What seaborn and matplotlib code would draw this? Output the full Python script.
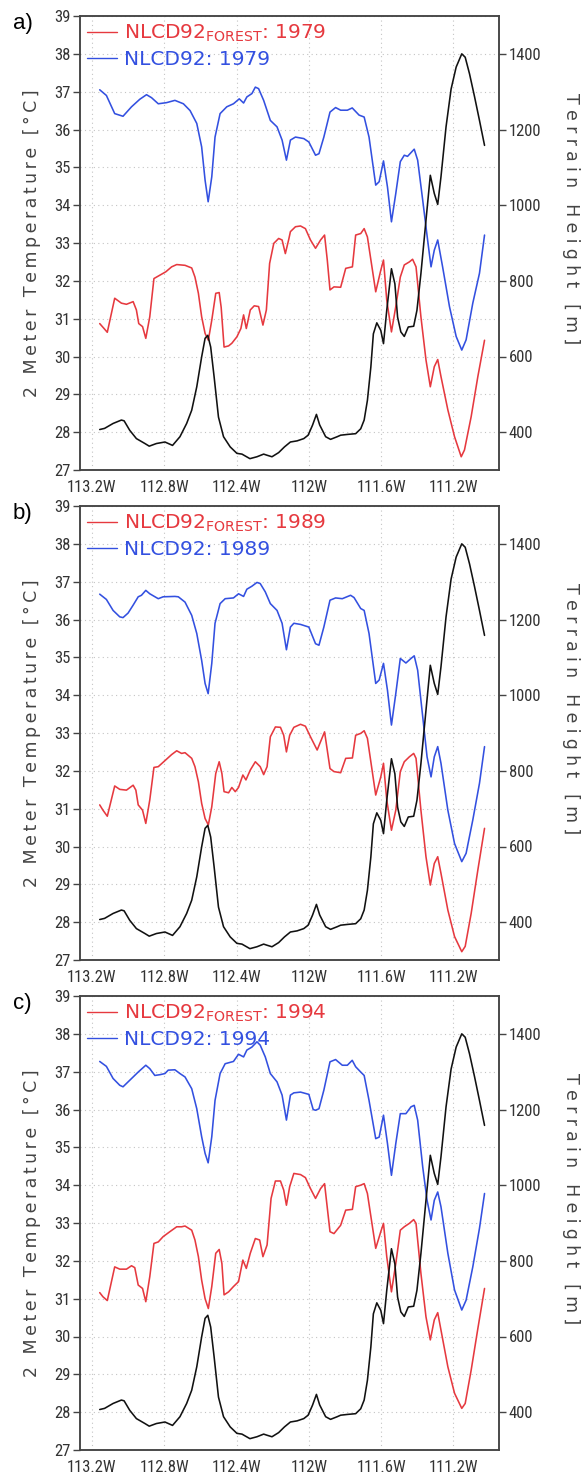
import matplotlib
matplotlib.use("Agg")
import matplotlib.pyplot as plt
from matplotlib import font_manager
import pandas as pd
import seaborn as sns

# ---------------------------------------------------------------
# Dados (longitude, valor)
# ---------------------------------------------------------------
YEARS = [1979, 1989, 1994]
PANEL_LETTERS = ["a)", "b)", "c)"]
LON_TICKS = [-113.2, -112.8, -112.4, -112.0, -111.6, -111.2]
LON_LABELS = ["113.2W", "112.8W", "112.4W", "112W", "111.6W", "111.2W"]
TEMP_TICKS = list(range(27, 40))
HEIGHT_TICKS = [400, 600, 800, 1000, 1200, 1400]

# altura do terreno (m), igual nos três painéis
TERRAIN = [
    (-113.157, 407), (-113.130, 410), (-113.083, 423), (-113.037, 432), (-113.022, 430),
    (-112.991, 405), (-112.954, 383), (-112.907, 370), (-112.883, 363), (-112.843, 370),
    (-112.796, 374), (-112.754, 365), (-112.713, 388), (-112.676, 423), (-112.648, 458),
    (-112.620, 520), (-112.593, 599), (-112.574, 648), (-112.559, 656), (-112.543, 625),
    (-112.524, 546), (-112.500, 440), (-112.472, 388), (-112.435, 361), (-112.398, 344),
    (-112.370, 342), (-112.326, 330), (-112.287, 335), (-112.250, 342), (-112.231, 339),
    (-112.204, 335), (-112.167, 346), (-112.135, 361), (-112.102, 374), (-112.065, 377),
    (-112.028, 383), (-112.004, 392), (-111.980, 418), (-111.958, 447), (-111.940, 419),
    (-111.907, 388), (-111.880, 381), (-111.843, 388), (-111.824, 392), (-111.787, 394),
    (-111.741, 396), (-111.713, 409), (-111.694, 432), (-111.676, 484), (-111.657, 572),
    (-111.643, 660), (-111.624, 689), (-111.602, 669), (-111.587, 634), (-111.569, 722),
    (-111.543, 832), (-111.524, 792), (-111.509, 704), (-111.491, 665), (-111.472, 653),
    (-111.450, 678), (-111.420, 680), (-111.402, 722), (-111.380, 819), (-111.352, 960),
    (-111.328, 1079), (-111.306, 1031), (-111.287, 1002), (-111.269, 1075), (-111.241, 1207),
    (-111.213, 1307), (-111.185, 1365), (-111.154, 1400), (-111.135, 1391), (-111.111, 1347),
    (-111.083, 1286), (-111.056, 1224), (-111.028, 1158),
]

# NLCD92 (azul), temperatura a 2 m
BLUE_1979 = [
    (-113.157, 37.05), (-113.120, 36.90), (-113.074, 36.42), (-113.028, 36.35), (-112.981, 36.60),
    (-112.935, 36.80), (-112.898, 36.92), (-112.870, 36.84), (-112.833, 36.68), (-112.787, 36.71),
    (-112.741, 36.77), (-112.694, 36.68), (-112.657, 36.50), (-112.620, 36.16), (-112.593, 35.54),
    (-112.574, 34.66), (-112.557, 34.09), (-112.537, 34.75), (-112.519, 35.80), (-112.491, 36.42),
    (-112.454, 36.60), (-112.417, 36.68), (-112.385, 36.81), (-112.361, 36.70), (-112.343, 36.86),
    (-112.315, 36.95), (-112.296, 37.12), (-112.278, 37.08), (-112.250, 36.77), (-112.213, 36.24),
    (-112.176, 36.07), (-112.148, 35.72), (-112.124, 35.19), (-112.102, 35.72), (-112.074, 35.80),
    (-112.028, 35.76), (-112.000, 35.67), (-111.963, 35.32), (-111.944, 35.36), (-111.917, 35.80),
    (-111.883, 36.46), (-111.852, 36.58), (-111.824, 36.51), (-111.787, 36.51), (-111.760, 36.57),
    (-111.722, 36.38), (-111.694, 36.33), (-111.667, 35.80), (-111.630, 34.53), (-111.611, 34.62),
    (-111.587, 35.17), (-111.565, 34.48), (-111.543, 33.56), (-111.519, 34.31), (-111.494, 35.15),
    (-111.472, 35.32), (-111.454, 35.29), (-111.417, 35.48), (-111.398, 35.19), (-111.370, 34.13),
    (-111.343, 33.08), (-111.324, 32.37), (-111.306, 32.81), (-111.287, 33.08), (-111.260, 32.37),
    (-111.222, 31.32), (-111.185, 30.53), (-111.154, 30.17), (-111.130, 30.44), (-111.093, 31.41),
    (-111.056, 32.20), (-111.028, 33.21),
]
BLUE_1989 = [
    (-113.157, 36.67), (-113.120, 36.53), (-113.083, 36.24), (-113.046, 36.07), (-113.028, 36.05),
    (-113.000, 36.17), (-112.972, 36.38), (-112.944, 36.60), (-112.926, 36.64), (-112.902, 36.77),
    (-112.880, 36.68), (-112.833, 36.55), (-112.806, 36.60), (-112.741, 36.61), (-112.722, 36.60),
    (-112.685, 36.46), (-112.648, 36.11), (-112.620, 35.63), (-112.593, 34.92), (-112.574, 34.31),
    (-112.557, 34.04), (-112.537, 34.84), (-112.519, 35.90), (-112.491, 36.42), (-112.463, 36.55),
    (-112.417, 36.57), (-112.389, 36.68), (-112.361, 36.61), (-112.343, 36.80), (-112.315, 36.88),
    (-112.287, 36.98), (-112.269, 36.95), (-112.241, 36.73), (-112.213, 36.42), (-112.176, 36.24),
    (-112.148, 35.90), (-112.124, 35.20), (-112.102, 35.80), (-112.083, 35.90), (-112.046, 35.87),
    (-112.000, 35.80), (-111.963, 35.36), (-111.944, 35.32), (-111.917, 35.80), (-111.883, 36.51),
    (-111.852, 36.57), (-111.815, 36.55), (-111.769, 36.64), (-111.750, 36.58), (-111.713, 36.29),
    (-111.694, 36.24), (-111.667, 35.63), (-111.630, 34.31), (-111.611, 34.40), (-111.587, 34.84),
    (-111.565, 34.13), (-111.543, 33.21), (-111.519, 34.04), (-111.494, 34.97), (-111.463, 34.85),
    (-111.435, 34.97), (-111.417, 35.04), (-111.398, 34.66), (-111.370, 33.43), (-111.346, 32.37),
    (-111.324, 31.84), (-111.306, 32.37), (-111.287, 32.64), (-111.269, 32.20), (-111.231, 30.96),
    (-111.194, 30.08), (-111.154, 29.60), (-111.130, 29.82), (-111.093, 30.70), (-111.056, 31.67),
    (-111.028, 32.64),
]
BLUE_1994 = [
    (-113.157, 37.27), (-113.120, 37.14), (-113.083, 36.82), (-113.046, 36.64), (-113.028, 36.60),
    (-113.000, 36.73), (-112.972, 36.86), (-112.944, 36.99), (-112.902, 37.17), (-112.880, 37.08),
    (-112.852, 36.90), (-112.824, 36.92), (-112.796, 36.95), (-112.778, 37.04), (-112.741, 37.05),
    (-112.713, 36.95), (-112.685, 36.86), (-112.648, 36.55), (-112.620, 36.02), (-112.593, 35.28),
    (-112.574, 34.84), (-112.557, 34.59), (-112.537, 35.28), (-112.519, 36.24), (-112.491, 36.95),
    (-112.463, 37.21), (-112.417, 37.27), (-112.389, 37.46), (-112.361, 37.39), (-112.343, 37.57),
    (-112.315, 37.65), (-112.287, 37.79), (-112.269, 37.70), (-112.241, 37.39), (-112.213, 36.95),
    (-112.176, 36.73), (-112.148, 36.38), (-112.124, 35.72), (-112.102, 36.38), (-112.083, 36.44),
    (-112.046, 36.46), (-112.000, 36.40), (-111.976, 36.00), (-111.963, 35.98), (-111.944, 36.02),
    (-111.917, 36.51), (-111.883, 37.26), (-111.852, 37.32), (-111.815, 37.17), (-111.787, 37.17),
    (-111.760, 37.30), (-111.741, 37.13), (-111.713, 36.99), (-111.694, 36.90), (-111.667, 36.24),
    (-111.630, 35.23), (-111.611, 35.27), (-111.587, 35.85), (-111.565, 35.10), (-111.543, 34.26),
    (-111.519, 35.10), (-111.494, 35.89), (-111.463, 35.89), (-111.435, 36.07), (-111.417, 36.11),
    (-111.398, 35.72), (-111.370, 34.48), (-111.346, 33.60), (-111.324, 33.08), (-111.306, 33.60),
    (-111.287, 33.82), (-111.269, 33.43), (-111.231, 32.20), (-111.194, 31.23), (-111.154, 30.70),
    (-111.130, 30.96), (-111.093, 31.84), (-111.056, 32.86), (-111.028, 33.78),
]

# NLCD92_FOREST (vermelho), temperatura a 2 m
RED_1979 = [
    (-113.157, 30.87), (-113.133, 30.74), (-113.115, 30.64), (-113.074, 31.54), (-113.037, 31.41),
    (-113.009, 31.38), (-112.972, 31.45), (-112.954, 31.23), (-112.941, 30.87), (-112.920, 30.79),
    (-112.902, 30.48), (-112.880, 31.05), (-112.857, 32.06), (-112.824, 32.15), (-112.791, 32.24),
    (-112.759, 32.37), (-112.731, 32.43), (-112.685, 32.41), (-112.648, 32.34), (-112.630, 32.10),
    (-112.611, 31.67), (-112.593, 31.05), (-112.574, 30.61), (-112.556, 30.43), (-112.537, 30.96),
    (-112.515, 31.67), (-112.496, 31.69), (-112.485, 31.30), (-112.469, 30.25), (-112.444, 30.28),
    (-112.426, 30.35), (-112.398, 30.52), (-112.376, 30.74), (-112.361, 31.10), (-112.346, 30.74),
    (-112.324, 31.23), (-112.302, 31.34), (-112.278, 31.32), (-112.254, 30.83), (-112.235, 31.23),
    (-112.217, 32.46), (-112.194, 32.99), (-112.167, 33.12), (-112.148, 33.08), (-112.130, 32.72),
    (-112.111, 33.10), (-112.102, 33.30), (-112.074, 33.43), (-112.046, 33.45), (-112.019, 33.38),
    (-111.991, 33.08), (-111.963, 32.86), (-111.935, 33.08), (-111.913, 33.21), (-111.898, 32.55),
    (-111.883, 31.76), (-111.861, 31.84), (-111.824, 31.83), (-111.796, 32.33), (-111.759, 32.37),
    (-111.741, 33.21), (-111.713, 33.25), (-111.694, 33.38), (-111.676, 33.16), (-111.630, 31.71),
    (-111.602, 32.28), (-111.587, 32.55), (-111.569, 31.49), (-111.543, 30.65), (-111.519, 31.32),
    (-111.494, 32.10), (-111.472, 32.42), (-111.444, 32.50), (-111.426, 32.57), (-111.407, 32.37),
    (-111.380, 31.05), (-111.352, 29.91), (-111.328, 29.20), (-111.306, 29.73), (-111.287, 29.92),
    (-111.269, 29.47), (-111.231, 28.59), (-111.194, 27.88), (-111.157, 27.35), (-111.139, 27.53),
    (-111.102, 28.41), (-111.065, 29.47), (-111.028, 30.43),
]
RED_1989 = [
    (-113.157, 31.10), (-113.139, 30.96), (-113.115, 30.80), (-113.074, 31.60), (-113.046, 31.51),
    (-113.009, 31.49), (-112.972, 31.62), (-112.957, 31.49), (-112.944, 31.10), (-112.920, 30.96),
    (-112.902, 30.61), (-112.880, 31.23), (-112.857, 32.09), (-112.833, 32.11), (-112.796, 32.27),
    (-112.759, 32.43), (-112.731, 32.53), (-112.704, 32.46), (-112.685, 32.48), (-112.648, 32.33),
    (-112.630, 32.11), (-112.611, 31.71), (-112.593, 31.14), (-112.574, 30.74), (-112.556, 30.57),
    (-112.537, 31.05), (-112.515, 31.93), (-112.496, 32.24), (-112.481, 31.93), (-112.469, 31.45),
    (-112.444, 31.42), (-112.426, 31.56), (-112.407, 31.45), (-112.389, 31.56), (-112.365, 31.89),
    (-112.348, 31.76), (-112.324, 32.02), (-112.296, 32.24), (-112.269, 32.11), (-112.250, 31.90),
    (-112.231, 32.11), (-112.213, 32.90), (-112.185, 33.16), (-112.157, 33.15), (-112.139, 32.94),
    (-112.124, 32.50), (-112.106, 32.94), (-112.083, 33.15), (-112.046, 33.23), (-112.019, 33.18),
    (-111.991, 32.90), (-111.954, 32.55), (-111.913, 33.03), (-111.883, 32.06), (-111.861, 31.98),
    (-111.824, 31.95), (-111.796, 32.33), (-111.759, 32.34), (-111.741, 32.94), (-111.713, 32.99),
    (-111.694, 33.06), (-111.676, 32.86), (-111.630, 31.36), (-111.602, 31.84), (-111.587, 32.20),
    (-111.569, 31.23), (-111.543, 30.43), (-111.519, 30.96), (-111.494, 31.98), (-111.472, 32.24),
    (-111.444, 32.37), (-111.420, 32.46), (-111.407, 32.33), (-111.380, 30.96), (-111.352, 29.73),
    (-111.328, 28.98), (-111.306, 29.55), (-111.287, 29.73), (-111.269, 29.29), (-111.231, 28.32),
    (-111.194, 27.62), (-111.154, 27.22), (-111.135, 27.36), (-111.102, 28.23), (-111.065, 29.38),
    (-111.028, 30.48),
]
RED_1994 = [
    (-113.157, 31.16), (-113.139, 31.05), (-113.115, 30.95), (-113.074, 31.84), (-113.046, 31.78),
    (-113.009, 31.78), (-112.981, 31.87), (-112.963, 31.82), (-112.944, 31.36), (-112.920, 31.27),
    (-112.902, 30.92), (-112.880, 31.58), (-112.857, 32.46), (-112.833, 32.50), (-112.806, 32.64),
    (-112.769, 32.77), (-112.731, 32.90), (-112.704, 32.90), (-112.685, 32.92), (-112.648, 32.81),
    (-112.630, 32.55), (-112.611, 32.11), (-112.593, 31.49), (-112.574, 31.00), (-112.556, 30.74),
    (-112.537, 31.32), (-112.515, 32.20), (-112.496, 32.30), (-112.481, 31.93), (-112.469, 31.10),
    (-112.444, 31.18), (-112.417, 31.32), (-112.389, 31.45), (-112.365, 32.02), (-112.346, 31.80),
    (-112.324, 32.20), (-112.296, 32.59), (-112.272, 32.55), (-112.254, 32.11), (-112.231, 32.42),
    (-112.209, 33.65), (-112.185, 34.11), (-112.157, 34.11), (-112.139, 33.87), (-112.124, 33.47),
    (-112.106, 33.96), (-112.083, 34.31), (-112.046, 34.28), (-112.019, 34.20), (-111.991, 33.91),
    (-111.963, 33.65), (-111.935, 33.91), (-111.913, 34.04), (-111.883, 32.77), (-111.861, 32.72),
    (-111.824, 32.94), (-111.796, 33.34), (-111.759, 33.36), (-111.741, 33.96), (-111.713, 34.00),
    (-111.694, 34.04), (-111.676, 33.78), (-111.630, 32.33), (-111.602, 32.77), (-111.587, 32.99),
    (-111.569, 32.11), (-111.543, 31.18), (-111.519, 31.93), (-111.494, 32.81), (-111.472, 32.90),
    (-111.444, 32.99), (-111.420, 33.09), (-111.407, 32.99), (-111.380, 31.67), (-111.352, 30.52),
    (-111.328, 29.91), (-111.306, 30.44), (-111.287, 30.63), (-111.269, 30.17), (-111.231, 29.20),
    (-111.194, 28.50), (-111.154, 28.10), (-111.135, 28.23), (-111.102, 29.11), (-111.065, 30.21),
    (-111.028, 31.27),
]

RED_SERIES = [RED_1979, RED_1989, RED_1994]
BLUE_SERIES = [BLUE_1979, BLUE_1989, BLUE_1994]

RED = "#e6393f"
BLUE = "#3350e0"
BLACK = "#111111"
AXIS_GRAY = "#444444"
WIDE = ["DejaVu Sans"]


def fonte_estreita(size):
    # procura uma fonte condensada instalada para os rótulos dos eixos
    prefer = ["Liberation Sans Narrow", "Roboto Condensed", "Open Sans Condensed"]
    entries = font_manager.fontManager.ttflist
    for name in prefer:
        for f in entries:
            if f.name == name and f.weight in (400, "normal", "regular") and f.style == "normal":
                return font_manager.FontProperties(fname=f.fname, size=size)
    for f in entries:
        if f.name == "DejaVu Sans" and str(f.stretch) in ("condensed", "semi-condensed") \
                and f.style == "normal" and f.weight in (400, "normal"):
            return font_manager.FontProperties(fname=f.fname, size=size)
    return font_manager.FontProperties(family="DejaVu Sans", size=size - 1.5)


def espacado(s, sep="\u2009"):
    return sep.join(s)


def to_df(pairs, name):
    return pd.DataFrame(pairs, columns=["lon", name])


def desenha_painel(fig, rect, letter, year, red, blue, tick_font):
    ax = fig.add_axes(rect)
    ax2 = ax.twinx()

    dr = to_df(red, "t")
    db = to_df(blue, "t")
    dt = to_df(TERRAIN, "h")

    sns.lineplot(data=dr, x="lon", y="t", ax=ax, color=RED, lw=1.15,
                 label=r"NLCD92$_{\mathregular{FOREST}}$: %d" % year)
    sns.lineplot(data=db, x="lon", y="t", ax=ax, color=BLUE, lw=1.15,
                 label="NLCD92: %d" % year)
    sns.lineplot(data=dt, x="lon", y="h", ax=ax2, color=BLACK, lw=1.15)

    ax.set_xlim(-113.266, -110.948)
    ax.set_ylim(27, 39)
    ax2.set_ylim(300, 1500)
    ax.set_xticks(LON_TICKS)
    ax.set_xticklabels(LON_LABELS)
    ax.set_yticks(TEMP_TICKS)
    ax2.set_yticks(HEIGHT_TICKS)
    ax.set_xlabel("")
    ax.set_ylabel("")
    ax2.set_ylabel("")

    ax.grid(True, color="#c4c4c4", lw=0.8, ls=(0, (1, 3)))
    ax2.grid(False)

    for a in (ax, ax2):
        for sp in a.spines.values():
            sp.set_color(AXIS_GRAY)
            sp.set_linewidth(1.1)
        a.tick_params(direction="out", length=5, width=1.0, color=AXIS_GRAY,
                      labelcolor="#333333", pad=2)
        for lab in a.get_xticklabels() + a.get_yticklabels():
            lab.set_fontproperties(tick_font)

    leg = ax.legend(loc="upper left", frameon=False, handlelength=1.5,
                    handletextpad=0.35, borderaxespad=0.15, borderpad=0.2,
                    labelspacing=0.3, labelcolor="linecolor",
                    prop={"family": WIDE, "size": 14.5})
    for line in leg.get_lines():
        line.set_linewidth(1.0)

    ax.text(-0.115, 0.50, espacado("2 Meter Temperature [°C]"), transform=ax.transAxes,
            rotation=90, ha="center", va="center", fontsize=12.5,
            color="#444444", family=WIDE)
    ax.text(1.172, 0.553, espacado("Terrain Height [m]", "\u2009\u200a"),
            transform=ax.transAxes, rotation=270, ha="center", va="center",
            fontsize=12.5, color="#444444", family=WIDE)
    ax.text(-0.16, 0.983, letter, transform=ax.transAxes, ha="left",
            va="center", fontsize=16, color="black",
            family=["Liberation Sans", "DejaVu Sans"])
    return ax, ax2


def main():
    sns.set_style("white")
    plt.rcParams["font.family"] = WIDE
    tick_font = fonte_estreita(12)
    fig = plt.figure(figsize=(5.83, 14.76), dpi=100)
    W, H = 583.0, 1476.0
    tops = [16, 506, 996]
    for letter, year, top, red, blue in zip(PANEL_LETTERS, YEARS, tops, RED_SERIES, BLUE_SERIES):
        rect = [80 / W, 1 - (top + 454) / H, 419 / W, 454 / H]
        desenha_painel(fig, rect, letter, year, red, blue, tick_font)
    fig.savefig("out.png", dpi=100)


if __name__ == "__main__":
    main()
